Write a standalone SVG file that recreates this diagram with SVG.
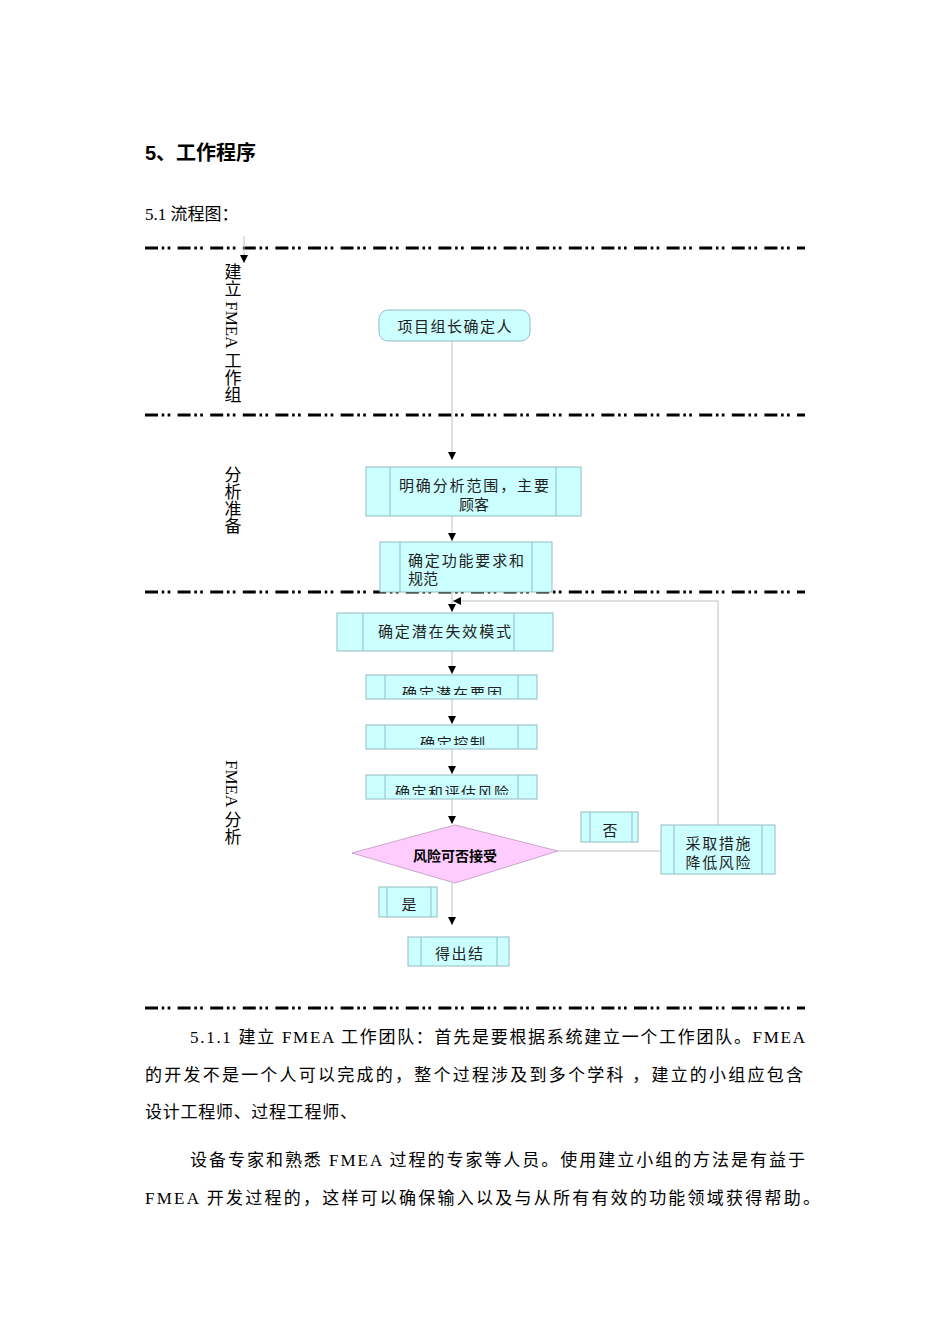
<svg xmlns="http://www.w3.org/2000/svg" width="950" height="1344" viewBox="0 0 950 1344">
<style>
.sep{stroke:#000;stroke-width:3;fill:none;stroke-dasharray:13 3.7 2.6 3.3 2.7 7.3}
.box{fill:#ccffff;stroke:#93bcc4;stroke-width:1}
.inner{stroke:#93bcc4;stroke-width:1;fill:none}
.conn{stroke:#c0c0c0;stroke-width:1;fill:none}
.nt{font-family:"Liberation Serif","Noto Sans CJK SC",serif;font-size:15px;fill:#222}
.lane{font-family:"Liberation Serif","Noto Sans CJK SC",sans-serif;font-size:17px;fill:#000;writing-mode:tb}
.body{font-family:"Liberation Serif","Noto Sans CJK SC",serif;font-size:17px;fill:#000}
</style>
<defs>
<marker id="ah" markerUnits="userSpaceOnUse" markerWidth="8" markerHeight="9" refX="8" refY="4" orient="auto">
<path d="M0,0 L8,4 L0,8 z" fill="#000"/>
</marker>
<clipPath id="c5"><rect x="366" y="675" width="171" height="20"/></clipPath>
<clipPath id="c6"><rect x="366" y="725" width="171" height="20"/></clipPath>
<clipPath id="c7"><rect x="366" y="775" width="171" height="20"/></clipPath>
</defs>
<rect width="950" height="1344" fill="#fff"/>

<text x="145" y="160" font-family="'Liberation Sans','Noto Sans CJK SC',sans-serif" font-size="20" font-weight="bold">5、工作程序</text>
<text x="145" y="220" class="body">5.1 流程图：</text>

<g id="separators">
<line class="sep" x1="145" y1="248" x2="805" y2="248"/>
<line class="sep" x1="145" y1="415" x2="805" y2="415"/>
<line class="sep" x1="145" y1="592" x2="805" y2="592"/>
<line class="sep" x1="145" y1="1008" x2="805" y2="1008"/>
</g>

<g id="lanes">
<text class="lane" x="231" y="263">建立 FMEA 工作组</text>
<text class="lane" x="231" y="466" font-size="18">分析准备</text>
<text class="lane" x="231" y="760">FMEA 分析</text>
</g>

<g id="connectors">
<line class="conn" x1="244" y1="236" x2="244" y2="263" marker-end="url(#ah)"/>
<line class="conn" x1="452" y1="341" x2="452" y2="460" marker-end="url(#ah)"/>
<line class="conn" x1="452" y1="516" x2="452" y2="541" marker-end="url(#ah)"/>
<line class="conn" x1="452" y1="592" x2="452" y2="612" marker-end="url(#ah)"/>
<polyline class="conn" points="718,825 718,601 453,601" marker-end="url(#ah)"/>
<line class="conn" x1="452" y1="651" x2="452" y2="674" marker-end="url(#ah)"/>
<line class="conn" x1="452" y1="699" x2="452" y2="724" marker-end="url(#ah)"/>
<line class="conn" x1="452" y1="749" x2="452" y2="774" marker-end="url(#ah)"/>
<line class="conn" x1="452" y1="799" x2="452" y2="824" marker-end="url(#ah)"/>
<line class="conn" x1="558" y1="851" x2="661" y2="851"/>
<line class="conn" x1="452" y1="883" x2="452" y2="925" marker-end="url(#ah)"/>
</g>

<g id="n1">
<rect class="box" x="379" y="310" width="151" height="31" rx="9"/>
<text class="nt" x="454.5" y="332" text-anchor="middle" textLength="114">项目组长确定人</text>
</g>

<g id="n2">
<rect class="box" x="366" y="467" width="215" height="49"/>
<line class="inner" x1="390" y1="467" x2="390" y2="516"/>
<line class="inner" x1="556" y1="467" x2="556" y2="516"/>
<text class="nt" x="399" y="491" textLength="150">明确分析范围，主要</text>
<text class="nt" x="474" y="510" text-anchor="middle">顾客</text>
</g>

<g id="n3">
<rect class="box" x="380" y="542" width="172" height="50"/>
<line class="inner" x1="400" y1="542" x2="400" y2="592"/>
<line class="inner" x1="532" y1="542" x2="532" y2="592"/>
<text class="nt" x="408" y="566" textLength="116">确定功能要求和</text>
<text class="nt" x="408" y="584">规范</text>
</g>

<g id="n4">
<rect class="box" x="337" y="613" width="216" height="38"/>
<line class="inner" x1="363" y1="613" x2="363" y2="651"/>
<line class="inner" x1="514" y1="613" x2="514" y2="651"/>
<text class="nt" x="378" y="637" textLength="133">确定潜在失效模式</text>
</g>

<g id="n5">
<rect class="box" x="366" y="675" width="171" height="24"/>
<line class="inner" x1="385" y1="675" x2="385" y2="699"/>
<line class="inner" x1="518" y1="675" x2="518" y2="699"/>
<text class="nt" x="402" y="699" textLength="100" clip-path="url(#c5)">确定潜在要因</text>
</g>

<g id="n6">
<rect class="box" x="366" y="725" width="171" height="24"/>
<line class="inner" x1="385" y1="725" x2="385" y2="749"/>
<line class="inner" x1="518" y1="725" x2="518" y2="749"/>
<text class="nt" x="420" y="749" textLength="65" clip-path="url(#c6)">确定控制</text>
</g>

<g id="n7">
<rect class="box" x="366" y="775" width="171" height="24"/>
<line class="inner" x1="385" y1="775" x2="385" y2="799"/>
<line class="inner" x1="518" y1="775" x2="518" y2="799"/>
<text class="nt" x="395" y="798" textLength="114" clip-path="url(#c7)">确定和评估风险</text>
</g>

<g id="decision">
<polygon points="455,825 558,851 455,883 352,853" fill="#ffccff" stroke="#c9a6c9" stroke-width="1"/>
<text x="455" y="861" text-anchor="middle" font-family="'Liberation Sans','Noto Sans CJK SC',sans-serif" font-size="14" font-weight="bold" fill="#000">风险可否接受</text>
</g>

<g id="no">
<rect class="box" x="581" y="812" width="57" height="30"/>
<line class="inner" x1="590" y1="812" x2="590" y2="842"/>
<line class="inner" x1="632" y1="812" x2="632" y2="842"/>
<text class="nt" x="610" y="836" text-anchor="middle">否</text>
</g>

<g id="action">
<rect class="box" x="661" y="825" width="114" height="49"/>
<line class="inner" x1="674" y1="825" x2="674" y2="874"/>
<line class="inner" x1="762" y1="825" x2="762" y2="874"/>
<text class="nt" x="718" y="849" text-anchor="middle" font-size="16" textLength="65">采取措施</text>
<text class="nt" x="718" y="868" text-anchor="middle" font-size="16" textLength="65">降低风险</text>
</g>

<g id="yes">
<rect class="box" x="379" y="887" width="58" height="30"/>
<line class="inner" x1="387" y1="887" x2="387" y2="917"/>
<line class="inner" x1="431" y1="887" x2="431" y2="917"/>
<text class="nt" x="409" y="910" text-anchor="middle">是</text>
</g>

<g id="result">
<rect class="box" x="408" y="937" width="101" height="29"/>
<line class="inner" x1="421" y1="937" x2="421" y2="966"/>
<line class="inner" x1="497" y1="937" x2="497" y2="966"/>
<text class="nt" x="435" y="959" textLength="48">得出结</text>
</g>

<g id="bodytext">
<text class="body" x="190" y="1043" textLength="615">5.1.1 建立 FMEA 工作团队：首先是要根据系统建立一个工作团队。FMEA</text>
<text class="body" x="145" y="1081" textLength="658">的开发不是一个人可以完成的，整个过程涉及到多个学科 ，建立的小组应包含</text>
<text class="body" x="145" y="1118" textLength="212">设计工程师、过程工程师、</text>
<text class="body" x="190" y="1166" textLength="615">设备专家和熟悉 FMEA 过程的专家等人员。使用建立小组的方法是有益于</text>
<text class="body" x="145" y="1204" textLength="675">FMEA 开发过程的，这样可以确保输入以及与从所有有效的功能领域获得帮助。</text>
</g>
</svg>
